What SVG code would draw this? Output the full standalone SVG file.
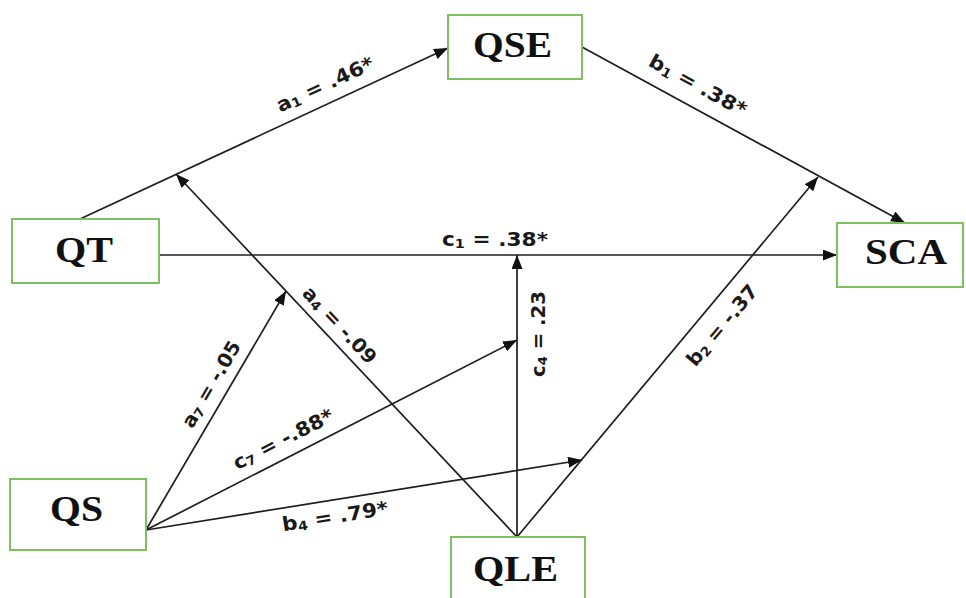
<svg xmlns="http://www.w3.org/2000/svg" width="966" height="598" viewBox="0 0 966 598">
<style>
.box{fill:#ffffff;stroke:#80bf60;stroke-width:2}
.nt{font-family:"Liberation Serif","Times New Roman",serif;font-weight:bold;font-size:35px;fill:#111;text-anchor:middle}
.ln{stroke:#1e1e1e;stroke-width:1.7;fill:none;marker-end:url(#ah)}
.lb{font-family:"DejaVu Sans",Verdana,sans-serif;font-weight:bold;font-size:19.5px;fill:#1a1a1a;text-anchor:middle}
.sb{font-size:13px}
</style>
<defs>
<marker id="ah" markerUnits="userSpaceOnUse" markerWidth="15" markerHeight="12" refX="14" refY="5.5" orient="auto">
<path d="M0,0 L14,5.5 L0,11 Z" fill="#111"/>
</marker>
</defs>
<rect width="966" height="598" fill="#ffffff"/>
<g id="connectors">
<line class="ln" x1="80" y1="219" x2="448" y2="48"/>
<line class="ln" x1="159" y1="255" x2="837" y2="255"/>
<line class="ln" x1="582" y1="47" x2="905" y2="223"/>
<line class="ln" x1="517" y1="537" x2="176" y2="174"/>
<line class="ln" x1="517" y1="537" x2="818" y2="177"/>
<line class="ln" x1="517" y1="537" x2="517" y2="255"/>
<line class="ln" x1="146" y1="530" x2="286" y2="291"/>
<line class="ln" x1="146" y1="530" x2="517" y2="340"/>
<line class="ln" x1="146" y1="530" x2="582" y2="460"/>
</g>
<g id="labels">
<text class="lb" transform="translate(325,84) rotate(-24.9)" x="0" y="7" textLength="105" lengthAdjust="spacingAndGlyphs">a<tspan class="sb" dy="2">1</tspan><tspan dy="-2"> = .46*</tspan></text>
<text class="lb" transform="translate(698,85) rotate(28.6)" x="0" y="7" textLength="108" lengthAdjust="spacingAndGlyphs">b<tspan class="sb" dy="2">1</tspan><tspan dy="-2"> = .38*</tspan></text>
<text class="lb" x="495" y="246" textLength="106" lengthAdjust="spacingAndGlyphs">c<tspan class="sb" dy="2">1</tspan><tspan dy="-2"> = .38*</tspan></text>
<text class="lb" transform="translate(340,325) rotate(46.8)" x="0" y="7" textLength="98" lengthAdjust="spacingAndGlyphs">a<tspan class="sb" dy="2">4</tspan><tspan dy="-2"> = -.09</tspan></text>
<text class="lb" transform="translate(538,334) rotate(-90)" x="0" y="7" textLength="86" lengthAdjust="spacingAndGlyphs">c<tspan class="sb" dy="2">4</tspan><tspan dy="-2"> = .23</tspan></text>
<text class="lb" transform="translate(722,325) rotate(-50.1)" x="0" y="7" textLength="99" lengthAdjust="spacingAndGlyphs">b<tspan class="sb" dy="2">2</tspan><tspan dy="-2"> = -.37</tspan></text>
<text class="lb" transform="translate(211,384) rotate(-59.6)" x="0" y="7" textLength="97" lengthAdjust="spacingAndGlyphs">a<tspan class="sb" dy="2">7</tspan><tspan dy="-2"> = -.05</tspan></text>
<text class="lb" transform="translate(283,439) rotate(-27.1)" x="0" y="7" textLength="110" lengthAdjust="spacingAndGlyphs">c<tspan class="sb" dy="2">7</tspan><tspan dy="-2"> = -.88*</tspan></text>
<text class="lb" transform="translate(335,516) rotate(-9.1)" x="0" y="7" textLength="107" lengthAdjust="spacingAndGlyphs">b<tspan class="sb" dy="2">4</tspan><tspan dy="-2"> = .79*</tspan></text>
</g>
<g id="QT">
<rect class="box" x="12" y="219" width="147" height="64"/>
<text class="nt" x="84" y="262" textLength="58" lengthAdjust="spacingAndGlyphs">QT</text>
</g>
<g id="QSE">
<rect class="box" x="448" y="15" width="134" height="64"/>
<text class="nt" x="512.5" y="57" textLength="79" lengthAdjust="spacingAndGlyphs">QSE</text>
</g>
<g id="SCA">
<rect class="box" x="837" y="223" width="126" height="64"/>
<text class="nt" x="906" y="264" textLength="82" lengthAdjust="spacingAndGlyphs">SCA</text>
</g>
<g id="QS">
<rect class="box" x="10" y="479" width="136" height="71"/>
<text class="nt" x="76.5" y="521" textLength="53" lengthAdjust="spacingAndGlyphs">QS</text>
</g>
<g id="QLE">
<rect class="box" x="451" y="537" width="134" height="75"/>
<text class="nt" x="515.5" y="581" textLength="85" lengthAdjust="spacingAndGlyphs">QLE</text>
</g>
</svg>
